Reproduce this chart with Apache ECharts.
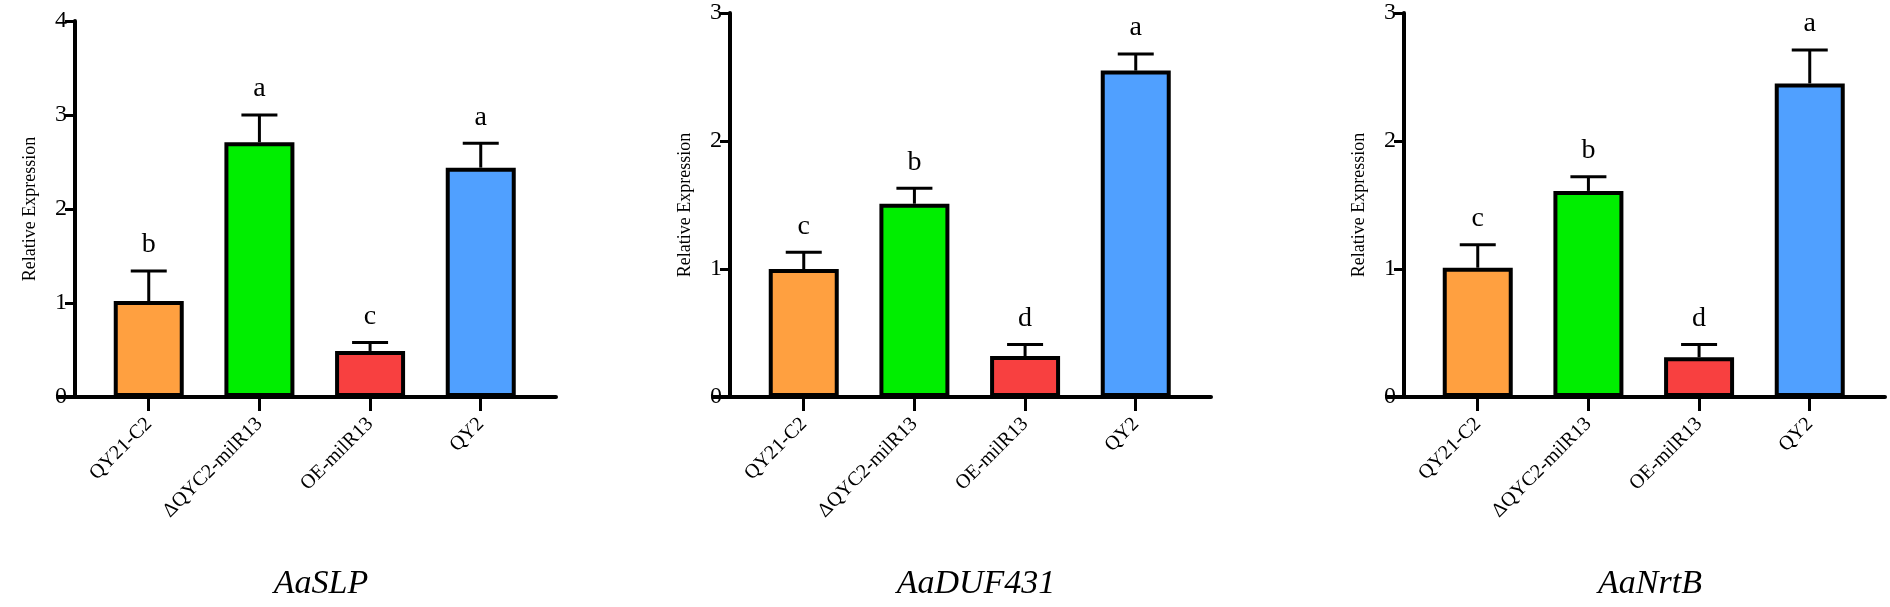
<!DOCTYPE html>
<html>
<head>
<meta charset="utf-8">
<title>Relative Expression</title>
<script src="https://cdn.jsdelivr.net/npm/echarts@6/dist/echarts.min.js"></script>
<style>html,body{margin:0;background:#fff}</style>
</head>
<body>
<div id="main" style="width:1890px;height:607px;"></div>
<script>
// data
var categories = ['QY21-C2', 'ΔQYC2-milR13', 'OE-milR13', 'QY2'];
var barColors = ['#FFA040', '#00EE00', '#F84040', '#50A0FF'];
var genes = ['AaSLP', 'AaDUF431', 'AaNrtB'];
var slpMean = [1.02, 2.71, 0.49, 2.44];
var slpErr = [0.32, 0.29, 0.09, 0.26];
var slpLetters = ['b', 'a', 'c', 'a'];
var dufMean = [1.00, 1.51, 0.32, 2.55];
var dufErr = [0.13, 0.12, 0.09, 0.13];
var dufLetters = ['c', 'b', 'd', 'a'];
var nrtMean = [1.01, 1.61, 0.31, 2.45];
var nrtErr = [0.18, 0.11, 0.10, 0.26];
var nrtLetters = ['c', 'b', 'd', 'a'];
var yMax = [4, 3, 3];

var means = [slpMean, dufMean, nrtMean];
var errs = [slpErr, dufErr, nrtErr];
var letters = [slpLetters, dufLetters, nrtLetters];
var lefts = [58, 713, 1387];
var tops = [21, 13, 13];
var font = '"Liberation Serif", "Times New Roman", serif';

var myChart = echarts.init(document.getElementById('main'));
var grid = [], xAxis = [], yAxis = [], series = [], title = [];

for (var p = 0; p < 3; p++) {
    grid.push({ left: lefts[p], top: tops[p], width: 498, bottom: 210 });
    xAxis.push({
        type: 'value', gridIndex: p, min: -0.82, max: 3.68,
        splitLine: { show: false },
        axisLine: { show: true, onZero: false, lineStyle: { color: '#000', width: 4 } },
        axisTick: { show: true, customValues: [0, 1, 2, 3], length: 14, lineStyle: { color: '#000', width: 3 } },
        axisLabel: {
            customValues: [0, 1, 2, 3], rotate: 45, margin: 24,
            fontFamily: font, fontSize: 20, color: '#000',
            formatter: function (v) { return categories[Math.round(v)]; }
        }
    });
    yAxis.push({
        type: 'value', gridIndex: p, min: 0, max: yMax[p], interval: 1, offset: -17,
        name: 'Relative Expression', nameLocation: 'middle', nameGap: 36,
        nameTextStyle: { fontFamily: font, fontSize: 18, color: '#000' },
        splitLine: { show: false },
        axisLine: { show: true, onZero: false, lineStyle: { color: '#000', width: 4 } },
        axisTick: { show: true, length: 10, lineStyle: { color: '#000', width: 3 } },
        axisLabel: { fontFamily: font, fontSize: 24, color: '#000', margin: 8 }
    });
    var barData = means[p].map(function (m, i) {
        return { value: [i, m], itemStyle: { color: barColors[i] } };
    });
    series.push({
        type: 'bar', xAxisIndex: p, yAxisIndex: p, barWidth: 70, z: 2,
        itemStyle: { borderColor: '#000', borderWidth: 4 },
        data: barData
    });
    var errData = means[p].map(function (m, i) { return [i, m, m + errs[p][i], letters[p][i]]; });
    series.push({
        type: 'custom', xAxisIndex: p, yAxisIndex: p, z: 1,
        data: errData,
        renderItem: function (params, api) {
            var base = api.coord([api.value(0), api.value(1)]);
            var top = api.coord([api.value(0), api.value(2)]);
            var style = { stroke: '#000', lineWidth: 3 };
            return {
                type: 'group', children: [
                    { type: 'line', shape: { x1: base[0], y1: base[1], x2: top[0], y2: top[1] }, style: style },
                    { type: 'line', shape: { x1: top[0] - 18, y1: top[1], x2: top[0] + 18, y2: top[1] }, style: style },
                    { type: 'text', x: top[0], y: top[1] - 12,
                      style: { text: api.value(3), fontFamily: font, fontSize: 28, fill: '#000', align: 'center', verticalAlign: 'bottom' } }
                ]
            };
        }
    });
    title.push({
        text: genes[p], left: lefts[p] + 258, top: 562, textAlign: 'center',
        textStyle: { fontFamily: font, fontStyle: 'italic', fontWeight: 'normal', fontSize: 34, color: '#000' }
    });
}

var option = { animation: false, title: title, grid: grid, xAxis: xAxis, yAxis: yAxis, series: series };
myChart.setOption(option);
</script>
</body>
</html>
